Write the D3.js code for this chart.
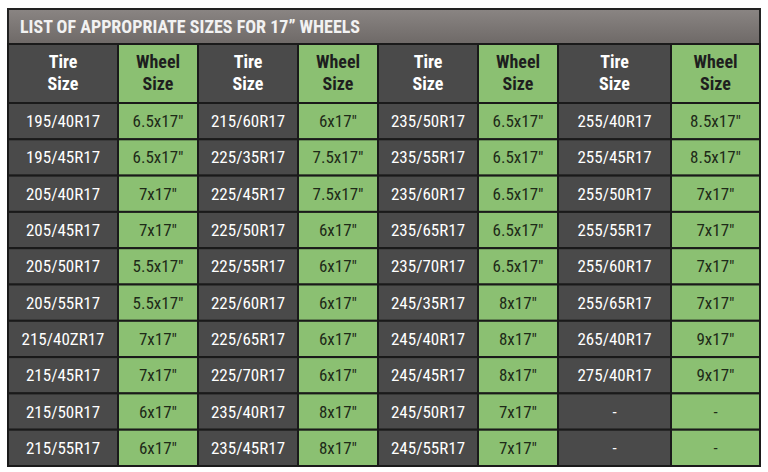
<!DOCTYPE html>
<html>
<head>
<meta charset="utf-8">
<script src="https://cdn.jsdelivr.net/npm/d3@7"></script>
<style>
  body { margin: 0; background: #fff; }
  text { font-family: "Liberation Sans Narrow", "Roboto Condensed", "Liberation Sans", sans-serif; }
</style>
</head>
<body>
<svg id="chart" width="768" height="472"></svg>
<script>
var title = "LIST OF APPROPRIATE SIZES FOR 17\u201D WHEELS";
var headers = ["Tire|Size", "Wheel|Size", "Tire|Size", "Wheel|Size", "Tire|Size", "Wheel|Size", "Tire|Size", "Wheel|Size"];
var tires1 = ["195/40R17","195/45R17","205/40R17","205/45R17","205/50R17","205/55R17","215/40ZR17","215/45R17","215/50R17","215/55R17"];
var wheels1 = ["6.5x17\"","6.5x17\"","7x17\"","7x17\"","5.5x17\"","5.5x17\"","7x17\"","7x17\"","6x17\"","6x17\""];
var tires2 = ["215/60R17","225/35R17","225/45R17","225/50R17","225/55R17","225/60R17","225/65R17","225/70R17","235/40R17","235/45R17"];
var wheels2 = ["6x17\"","7.5x17\"","7.5x17\"","6x17\"","6x17\"","6x17\"","6x17\"","6x17\"","8x17\"","8x17\""];
var tires3 = ["235/50R17","235/55R17","235/60R17","235/65R17","235/70R17","245/35R17","245/40R17","245/45R17","245/50R17","245/55R17"];
var wheels3 = ["6.5x17\"","6.5x17\"","6.5x17\"","6.5x17\"","6.5x17\"","8x17\"","8x17\"","8x17\"","7x17\"","7x17\""];
var tires4 = ["255/40R17","255/45R17","255/50R17","255/55R17","255/60R17","255/65R17","265/40R17","275/40R17","-","-"];
var wheels4 = ["8.5x17\"","8.5x17\"","7x17\"","7x17\"","7x17\"","7x17\"","9x17\"","9x17\"","-","-"];

var columns = [tires1, wheels1, tires2, wheels2, tires3, wheels3, tires4, wheels4];
var colEdges = [8, 118, 198, 298, 378, 478, 558, 671, 760];

var svg = d3.select("#chart");
var mLeft = 8, mRight = 760, mTop = 9, titleH = 35, headH = 59, mBottom = 466;

var y = d3.scaleBand()
  .domain(d3.range(tires1.length))
  .range([mTop + titleH + headH, mBottom]);

var dark = "#4a4a4a", green = "#8bc072";

// title band
var grad = svg.append("defs").append("linearGradient").attr("id", "tg").attr("x1", 0).attr("x2", 0).attr("y1", 0).attr("y2", 1);
grad.append("stop").attr("offset", "0%").attr("stop-color", "#8a8583");
grad.append("stop").attr("offset", "100%").attr("stop-color", "#6e6967");
svg.append("rect").attr("x", mLeft).attr("y", mTop).attr("width", mRight - mLeft).attr("height", titleH)
  .attr("fill", "url(#tg)").attr("stroke", "#222").attr("stroke-width", 2);
svg.append("text").attr("x", 20).attr("y", mTop + titleH / 2 + 6)
  .attr("fill", "#f2f2f2").style("font-size", "18px").style("font-weight", "bold")
  .text(title);

// header row
headers.forEach(function(h, i) {
  var x0 = colEdges[i], x1 = colEdges[i + 1], ht = mTop + titleH;
  svg.append("rect").attr("x", x0).attr("y", ht).attr("width", x1 - x0).attr("height", headH)
    .attr("fill", i % 2 ? green : dark).attr("stroke", "#1a1a1a").attr("stroke-width", 2);
  var t = svg.append("text").attr("text-anchor", "middle")
    .attr("fill", i % 2 ? "#1e1e1e" : "#fff").style("font-size", "18px").style("font-weight", "bold");
  h.split("|").forEach(function(line, k) {
    t.append("tspan").attr("x", (x0 + x1) / 2).attr("y", ht + 24 + k * 22).text(line);
  });
});

// body cells
columns.forEach(function(col, i) {
  var x0 = colEdges[i], x1 = colEdges[i + 1];
  var g = svg.append("g");
  g.selectAll("rect").data(col).enter().append("rect")
    .attr("x", x0).attr("y", (d, r) => y(r)).attr("width", x1 - x0).attr("height", y.bandwidth())
    .attr("fill", i % 2 ? green : dark).attr("stroke", "#1a1a1a").attr("stroke-width", 2);
  g.selectAll("text").data(col).enter().append("text")
    .attr("x", (x0 + x1) / 2).attr("y", (d, r) => y(r) + y.bandwidth() / 2 + 6)
    .attr("text-anchor", "middle")
    .attr("fill", i % 2 ? "#1e2a18" : "#fff").style("font-size", "17px")
    .text(d => d);
});
</script>
</body>
</html>
